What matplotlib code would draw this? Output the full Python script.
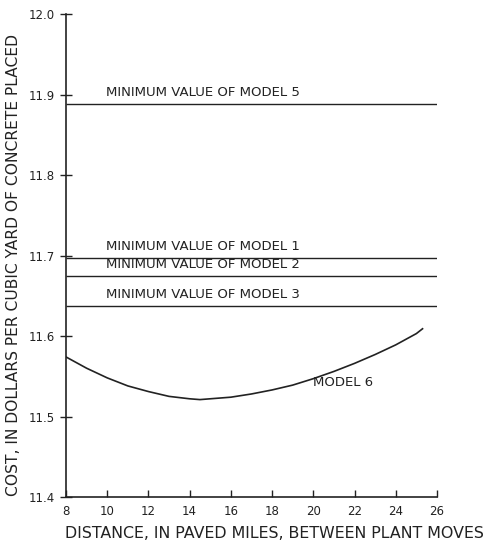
import numpy as np
import matplotlib
matplotlib.use("Agg")
import matplotlib.pyplot as plt

# minimum values of models 1, 2, 3, 5 (flat lines)
min_labels = ["MINIMUM VALUE OF MODEL 5", "MINIMUM VALUE OF MODEL 1",
              "MINIMUM VALUE OF MODEL 2", "MINIMUM VALUE OF MODEL 3"]
min_values = [11.888, 11.697, 11.675, 11.637]

# model 6 curve
m6_dist = [8, 9, 10, 11, 12, 13, 14, 14.5, 15, 16, 17, 18, 19, 20, 21, 22, 23, 24, 25, 25.3]
m6_cost = [11.574, 11.560, 11.548, 11.538, 11.531, 11.525, 11.522, 11.521, 11.522, 11.524,
           11.528, 11.533, 11.539, 11.547, 11.556, 11.566, 11.577, 11.589, 11.603, 11.609]

xticks = [8, 10, 12, 14, 16, 18, 20, 22, 24, 26]
yticks = [11.4, 11.5, 11.6, 11.7, 11.8, 11.9, 12.0]

plt.rcParams['font.family'] = ['DejaVu Sans']
ink = '#222222'

fig = plt.figure(figsize=(5.01, 5.47), dpi=100)
ax = fig.add_axes([0.1317, 0.0914, 0.7405, 0.883])

for lab, v in zip(min_labels, min_values):
    ax.hlines(v, 8, 26, color=ink, lw=1.0)
    ax.text(9.95, v + 0.006, lab, fontsize=9.5, color=ink, ha='left', va='bottom')

ax.plot(m6_dist, m6_cost, color=ink, lw=1.2)
ax.text(20, 11.542, "MODEL 6", fontsize=9.5, color=ink, ha='left', va='center')

ax.set_xlim(8, 26)
ax.set_ylim(11.4, 12.0)
ax.set_xticks(xticks)
ax.set_yticks(yticks)
ax.set_yticklabels(["%.1f" % t for t in yticks])
ax.tick_params(axis='x', direction='in', length=5, width=1, colors=ink, labelsize=8.5, pad=6)
ax.tick_params(axis='y', direction='inout', length=8, width=1, colors=ink, labelsize=8.5, pad=4)
for s in ['top', 'right']:
    ax.spines[s].set_visible(False)
for s in ['left', 'bottom']:
    ax.spines[s].set_color(ink)
    ax.spines[s].set_linewidth(1.2)

ax.set_xlabel("DISTANCE, IN PAVED MILES, BETWEEN PLANT MOVES", fontsize=11.4, color=ink)
ax.set_ylabel("COST, IN DOLLARS PER CUBIC YARD OF CONCRETE PLACED", fontsize=11.2, color=ink)
ax.xaxis.set_label_coords(0.563, -0.06)
ax.yaxis.set_label_coords(-0.12, 0.48)

fig.savefig("out.png", dpi=100)
